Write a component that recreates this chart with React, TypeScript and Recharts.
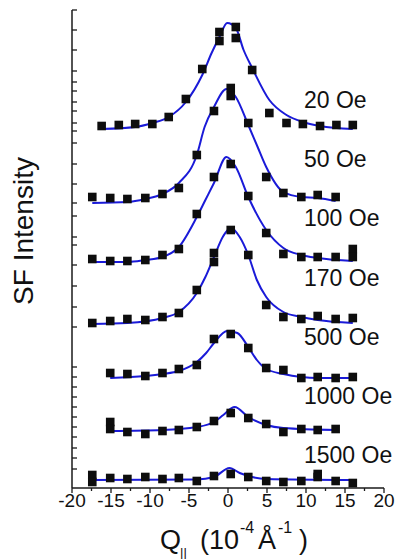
import React from 'react';
import { ComposedChart, Line, Scatter, XAxis, YAxis } from 'recharts';

const FONT = '"Liberation Sans", Arial, Helvetica, sans-serif';

// field labels, top to bottom
const fields = ['20 Oe', '50 Oe', '100 Oe', '170 Oe', '500 Oe', '1000 Oe', '1500 Oe'];

// measured SF intensity [Q, I] (curves are offset vertically)
const pts20: [number, number][] = [
    [-16.2, 36.2], [-14.0, 36.3], [-11.9, 36.4], [-9.7, 36.4], [-7.6, 37.1], [-5.4, 38.9], [-3.3, 41.9],
    [-1.1, 44.7], [-1.1, 45.6], [1.0, 46.1], [1.0, 45.0], [3.1, 41.8], [5.3, 37.5], [7.5, 36.5],
    [9.6, 36.4], [11.8, 36.2], [13.9, 36.3], [16.0, 36.3],
];
const pts50: [number, number][] = [
    [-17.4, 29.1], [-15.1, 29.0], [-12.9, 28.9], [-10.6, 29.0], [-8.4, 29.4], [-6.3, 30.0], [-4.0, 33.3],
    [-1.8, 37.7], [0.35, 40.0], [0.35, 39.2], [2.6, 36.5], [4.9, 31.1], [7.1, 29.5], [9.4, 29.1],
    [11.5, 29.3], [13.8, 29.1],
];
const pts100: [number, number][] = [
    [-17.4, 22.9], [-15.1, 22.7], [-12.9, 22.7], [-10.6, 22.8], [-8.4, 23.3], [-6.3, 23.9], [-4.0, 27.4],
    [-1.8, 31.1], [0.35, 32.4], [2.6, 29.2], [4.9, 25.5], [7.1, 23.4], [9.4, 23.1], [11.5, 23.1],
    [13.8, 23.1], [16.0, 23.9], [16.0, 23.1],
];
const pts170: [number, number][] = [
    [-17.4, 16.5], [-15.1, 16.7], [-12.9, 16.9], [-10.6, 16.8], [-8.4, 17.1], [-6.3, 17.5], [-4.0, 19.8],
    [-1.8, 22.6], [-1.8, 23.5], [0.35, 25.8], [2.6, 23.3], [4.9, 18.3], [7.1, 17.1], [9.4, 16.9],
    [11.5, 17.2], [13.8, 16.9], [16.0, 17.0],
];
const pts500: [number, number][] = [
    [-15.1, 11.5], [-12.9, 11.4], [-10.6, 11.2], [-8.4, 11.5], [-6.3, 11.9], [-4.0, 12.3], [-1.8, 14.9],
    [0.35, 15.4], [2.6, 14.0], [4.9, 12.0], [7.1, 11.8], [9.4, 11.0], [11.5, 11.1], [13.8, 11.0],
    [16.0, 11.1],
];
const pts1000: [number, number][] = [
    [-15.1, 6.6], [-15.1, 5.9], [-12.9, 5.6], [-10.6, 5.4], [-8.4, 5.7], [-6.3, 5.8], [-4.0, 6.1],
    [-1.8, 6.7], [0.35, 7.5], [2.6, 7.0], [4.9, 6.4], [7.1, 5.6], [9.4, 5.9], [11.5, 5.8], [13.8, 5.9],
];
const pts1500: [number, number][] = [
    [-17.4, 1.3], [-17.4, 0.6], [-15.1, 1.0], [-12.9, 0.9], [-10.6, 1.1], [-8.4, 0.9], [-6.3, 1.0],
    [-4.0, 0.7], [-1.8, 1.2], [0.35, 1.4], [2.6, 1.1], [4.9, 0.7], [7.1, 0.6], [9.4, 0.7],
    [11.5, 1.4], [11.5, 1.1], [13.8, 0.7], [16.0, 0.5],
];

// fitted curves [Q, I]
const fit20: [number, number][] = [
    [-16.2, 35.9], [-11.9, 36.1], [-9.7, 36.5], [-7.6, 37.1], [-5.4, 38.6], [-3.3, 41.3], [-2.1, 43.5],
    [-1.1, 45.1], [-0.1, 46.5], [1.0, 46.0], [2.0, 43.8], [3.1, 42.0], [5.3, 38.8], [7.5, 37.3],
    [9.6, 36.6], [11.8, 36.2], [16.0, 35.9],
];
const fit50: [number, number][] = [
    [-17.4, 28.5], [-12.9, 28.6], [-10.6, 28.9], [-8.4, 29.4], [-6.3, 30.5], [-4.0, 33.3], [-3.0, 36.1],
    [-1.8, 38.1], [-0.2, 39.9], [1.0, 39.1], [2.6, 36.3], [3.8, 34.1], [4.9, 32.1], [7.1, 29.6],
    [9.4, 29.1], [11.5, 29.0], [13.8, 28.7],
];
const fit100: [number, number][] = [
    [-17.4, 22.6], [-12.9, 22.6], [-10.6, 22.8], [-8.4, 23.1], [-6.3, 24.1], [-4.0, 27.1], [-2.9, 28.8],
    [-1.8, 30.5], [-0.2, 33.1], [1.0, 32.1], [2.6, 29.1], [4.9, 25.8], [7.1, 24.0], [9.4, 23.3],
    [11.5, 23.0], [16.0, 22.7],
];
const fit170: [number, number][] = [
    [-17.4, 16.4], [-12.9, 16.5], [-8.4, 17.0], [-6.3, 17.6], [-4.0, 19.5], [-2.9, 21.1], [-1.8, 23.1],
    [-0.6, 25.2], [0.35, 26.0], [1.5, 25.1], [2.6, 23.3], [3.7, 20.8], [4.9, 19.1], [7.1, 17.6],
    [9.4, 17.1], [11.5, 16.8], [16.0, 16.5],
];
const fit500: [number, number][] = [
    [-15.1, 11.0], [-10.6, 11.2], [-8.4, 11.4], [-6.3, 11.7], [-4.0, 12.6], [-2.8, 13.5], [-1.8, 14.5],
    [-0.1, 15.7], [1.2, 15.5], [2.6, 14.1], [3.7, 12.8], [4.9, 11.9], [7.1, 11.4], [9.4, 11.1],
    [11.5, 11.0], [16.0, 11.0],
];
const fit1000: [number, number][] = [
    [-15.1, 5.7], [-8.4, 5.8], [-4.0, 6.1], [-1.8, 6.6], [-0.6, 7.3], [0.85, 8.1], [2.6, 7.1],
    [4.9, 6.3], [7.1, 6.0], [13.8, 5.8],
];
const fit1500: [number, number][] = [
    [-17.4, 0.8], [-4.0, 0.85], [-1.8, 1.1], [0.2, 2.0], [1.5, 1.5], [2.6, 1.2], [4.9, 0.9], [16.0, 0.8],
];

const xTicks = [-20, -17.5, -15, -12.5, -10, -7.5, -5, -2.5, 0, 2.5, 5, 7.5, 10, 12.5, 15, 17.5, 20];
const yTicks = [
    47.8, 45.8, 43.8, 41.7, 40.6, 39.7, 38.6, 37.7, 36.5, 35.7, 34.5, 32.4, 30.4, 28.5, 27.2, 25.1,
    24.3, 22.3, 20.2, 18.1, 16.1, 12.1, 11.1, 10.1, 9.1, 8.1, 7.1, 6.1, 5.1, 4.0, 3.0, 1.9,
];

const toXY = (arr: [number, number][]) => arr.map(([x, y]) => ({ x, y }));

const series = [
    { name: fields[0], pts: toXY(pts20), fit: toXY(fit20) },
    { name: fields[1], pts: toXY(pts50), fit: toXY(fit50) },
    { name: fields[2], pts: toXY(pts100), fit: toXY(fit100) },
    { name: fields[3], pts: toXY(pts170), fit: toXY(fit170) },
    { name: fields[4], pts: toXY(pts500), fit: toXY(fit500) },
    { name: fields[5], pts: toXY(pts1000), fit: toXY(fit1000) },
    { name: fields[6], pts: toXY(pts1500), fit: toXY(fit1500) },
];

const AXIS = '#1a1a1a';
const FIT = '#1a1ad8';

const SquareDot = (props: any) => {
    const { cx, cy } = props;
    if (cx == null || cy == null) return null;
    return <rect x={cx - 4.3} y={cy - 4.3} width={8.6} height={8.6} fill="#0d0d0d" />;
};

const XTick = (props: any) => {
    const { x, y, payload } = props;
    const major = payload.value % 5 === 0;
    return (
        <g>
            <line x1={x} y1={y} x2={x} y2={y + (major ? 5 : 3)} stroke={AXIS} strokeWidth={1.3} />
            {major && (
                <text x={x} y={y + 19} textAnchor="middle" fontSize={19} fontFamily={FONT} fill="#111">
                    {payload.value}
                </text>
            )}
        </g>
    );
};

const YTick = (props: any) => {
    const { x, y } = props;
    return <line x1={x} y1={y} x2={x + 5} y2={y} stroke={AXIS} strokeWidth={1.3} />;
};

export default function App() {
    return (
        <div style={{ position: 'absolute', left: 0, top: 0, width: 398, height: 559, background: '#fff' }}>
            <ComposedChart width={398} height={559} margin={{ top: 10, right: 14, bottom: 0, left: 32 }}>
                <XAxis
                    dataKey="x"
                    type="number"
                    domain={[-20, 20]}
                    ticks={xTicks}
                    interval={0}
                    height={71}
                    tickSize={0}
                    tickMargin={0}
                    tickLine={false}
                    tick={<XTick />}
                    axisLine={{ stroke: AXIS, strokeWidth: 1.5 }}
                    allowDataOverflow
                />
                <YAxis
                    dataKey="y"
                    type="number"
                    domain={[0, 47.8]}
                    ticks={yTicks}
                    interval={0}
                    width={40}
                    tickSize={0}
                    tickMargin={0}
                    tickLine={false}
                    tick={<YTick />}
                    axisLine={{ stroke: AXIS, strokeWidth: 1.5 }}
                    allowDataOverflow
                />
                {series.map((s) => (
                    <Scatter key={`p-${s.name}`} data={s.pts} shape={<SquareDot />} isAnimationActive={false} />
                ))}
                {series.map((s) => (
                    <Line
                        key={`f-${s.name}`}
                        data={s.fit}
                        dataKey="y"
                        type="monotone"
                        stroke={FIT}
                        strokeWidth={2}
                        dot={false}
                        activeDot={false}
                        isAnimationActive={false}
                    />
                ))}
            </ComposedChart>
            <svg width={398} height={559} style={{ position: 'absolute', left: 0, top: 0, pointerEvents: 'none' }}>
                <g fontFamily={FONT} fill="#111">
                    {series.map((s, i) => (
                        <text key={s.name} x={304} y={108 + i * 59.2} fontSize={23}>
                            {s.name}
                        </text>
                    ))}
                    <text transform="translate(33,231) rotate(-90)" textAnchor="middle" fontSize={28}>
                        SF Intensity
                    </text>
                    <text x={160} y={549} fontSize={27}>Q</text>
                    <text x={180} y={557} fontSize={13}>||</text>
                    <text x={200} y={549} fontSize={27}>(10</text>
                    <text x={240} y={533} fontSize={16}>-4</text>
                    <text x={258} y={549} fontSize={27}>Å</text>
                    <text x={278} y={533} fontSize={16}>-1</text>
                    <text x={299} y={549} fontSize={27}>)</text>
                </g>
            </svg>
        </div>
    );
}
